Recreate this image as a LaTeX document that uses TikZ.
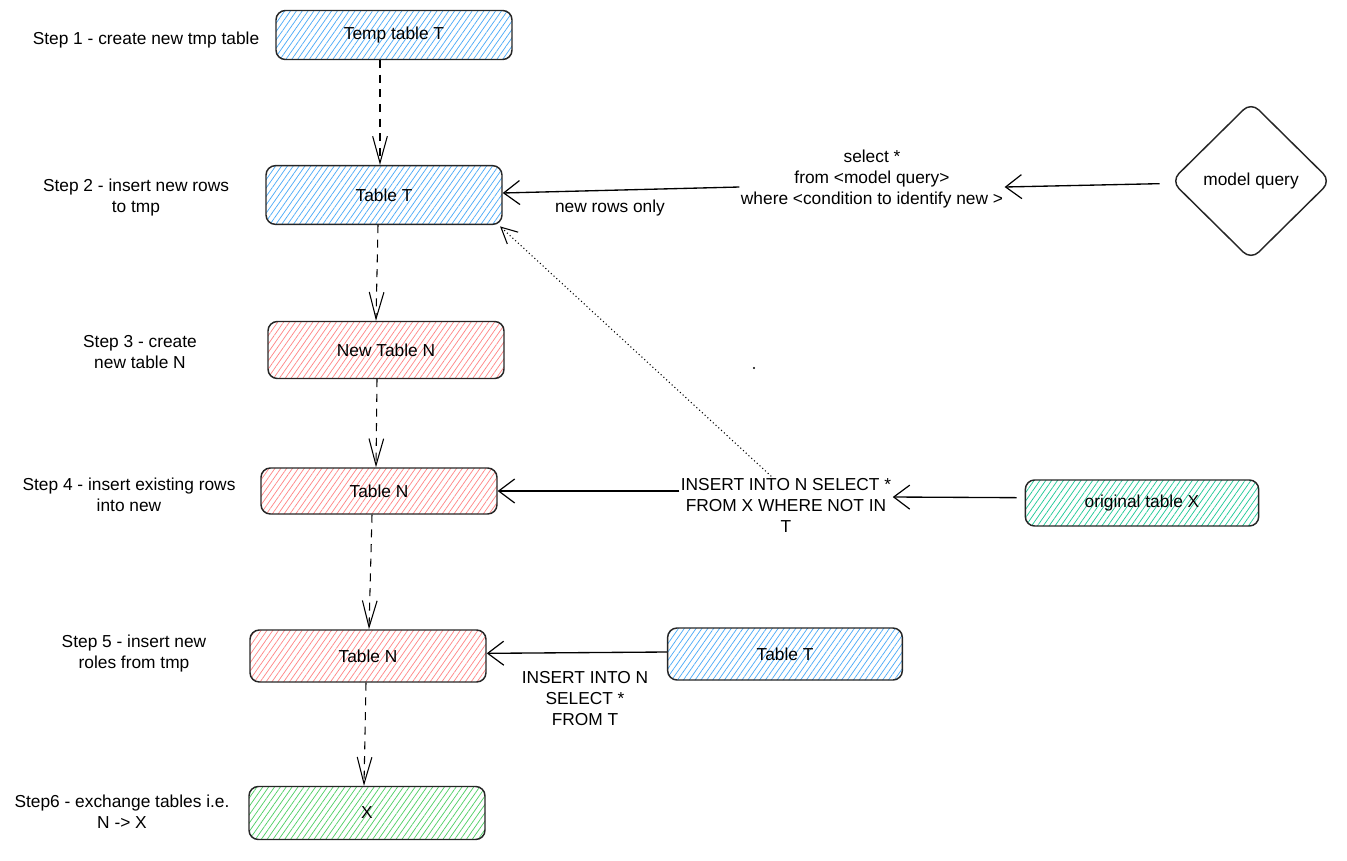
\documentclass[tikz,border=0pt]{standalone}
\usepackage{fontspec}
\setmainfont{Liberation Sans}
\usetikzlibrary{arrows.meta,patterns.meta,shapes.geometric}
\definecolor{hblue}{HTML}{4DABF7}
\definecolor{hred}{HTML}{FF8787}
\definecolor{hgreen}{HTML}{51CF66}
\definecolor{hteal}{HTML}{20C997}
\tikzset{
  tbox/.style={draw=black!85, line width=1.1pt, rounded corners=7pt, minimum width=177pt,
    font=\fontsize{13}{15.75}\selectfont, inner sep=0pt},
  hb/.style={tbox, pattern={Lines[angle=55,distance=3.6pt,line width=0.55pt]}, pattern color=hblue},
  hr/.style={tbox, pattern={Lines[angle=55,distance=3.6pt,line width=0.55pt]}, pattern color=hred},
  hg/.style={tbox, pattern={Lines[angle=55,distance=3.6pt,line width=0.55pt]}, pattern color=hgreen},
  ht/.style={tbox, pattern={Lines[angle=55,distance=3.6pt,line width=0.55pt]}, pattern color=hteal},
  lbl/.style={font=\fontsize{13}{15.75}\selectfont, align=center, inner sep=1pt},
  dflow/.style={line width=0.8pt, dash pattern=on 6pt off 5pt,
    -{Straight Barb[length=20pt,width=11pt,line width=0.8pt]}},
  sflow/.style={line width=1pt, -{Straight Barb[length=12pt,width=18pt,line width=0.9pt]}},
  dotflow/.style={line width=0.8pt, dotted, -{Straight Barb[length=12pt,width=12pt,line width=0.8pt]}}
}
\begin{document}
\begin{tikzpicture}[x=0.75pt,y=-0.75pt]
\useasboundingbox (0,0) rectangle (1347,861);
% boxes
\node[hb, minimum height=36.75pt] (t1) at (394,35) {Temp table T};
\node[hb, minimum height=44pt] (t2) at (384,195) {Table T};
\node[hr, minimum height=42.75pt] (n3) at (386,350) {New Table N};
\node[hr, minimum height=34.5pt] (n4) at (379,491) {Table N};
\node[hr, minimum height=39pt] (n5) at (368,656) {Table N};
\node[hg, minimum height=39.75pt] (x6) at (367,813) {X};
\node[hb, minimum height=39pt, minimum width=176pt] (tr) at (785,654) {Table T};
\node[ht, minimum height=34.5pt, minimum width=175pt] (ox) at (1142,503) {original table X};
\node[draw=black!85, line width=1.1pt, diamond, rounded corners=8pt, minimum width=120pt, minimum height=118.5pt,
  inner sep=0pt, font=\fontsize{13}{15.75}\selectfont] (mq) at (1251,181) {model query};
% step labels
\node[lbl] (s1) at (146,40) {Step 1 - create new tmp table};
\node[lbl] (s2) at (136,198) {Step 2 - insert new rows\\to tmp};
\node[lbl] (s3) at (140,352) {Step 3 - create\\new table N};
\node[lbl] (s4) at (129,495) {Step 4 - insert existing rows\\into new};
\node[lbl] (s5) at (134,654) {Step 5 - insert new\\roles from tmp};
\node[lbl] (s6) at (122,812) {Step6 - exchange tables i.e.\\N -> X};
% edge labels
\node[lbl] (q1) at (872,179) {select *\\from <model query>\\where <condition to identify new >};
\node[lbl] (nr) at (610,208) {new rows only};
\node[lbl] (q2) at (786,505) {INSERT INTO N SELECT *\\FROM X WHERE NOT IN\\T};
\node[lbl] (q3) at (585,699) {INSERT INTO N\\SELECT *\\FROM T};
% dashed flow
\draw[dflow] ([xshift=-10.5pt]t1.south) -- ([xshift=-3pt]t2.north);
\draw[dflow] ([xshift=-4.5pt]t2.south) -- ([xshift=-7.5pt]n3.north);
\draw[dflow] ([xshift=-6.75pt]n3.south) -- ([xshift=-2.25pt]n4.north);
\draw[dflow] ([xshift=-5.25pt]n4.south) -- ([xshift=0.75pt]n5.north);
\draw[dflow] ([xshift=-1.5pt]n5.south) -- ([xshift=-2.25pt]x6.north);
% solid flows
\draw[sflow] ([xshift=-8pt,yshift=-2pt]mq.west) -- ([yshift=-6pt]q1.east);
\draw[sflow] ([yshift=-6pt]q1.west) -- ([yshift=1.5pt]t2.east);
\draw[sflow] ([xshift=-6pt,yshift=4pt]ox.west) -- ([yshift=6pt]q2.east);
\draw[sflow] ([yshift=10.5pt]q2.west) -- (n4.east);
\draw[sflow] ([yshift=1.5pt]tr.west) -- ([yshift=2pt]n5.east);
\draw[dotflow] ([xshift=-11pt]q2.north) -- ([xshift=-2pt,yshift=-1pt]t2.south east);
% stray dot
\coordinate (dot) at (754,368);
\fill (dot) circle (0.9pt);
\end{tikzpicture}
\end{document}
